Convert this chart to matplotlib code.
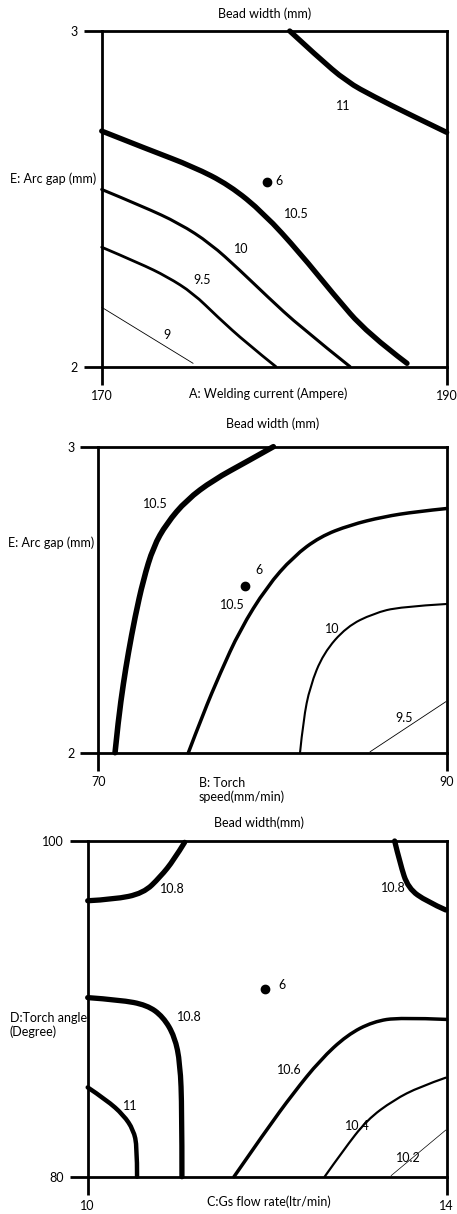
import matplotlib
matplotlib.use("Agg")
import matplotlib.pyplot as plt
from matplotlib.path import Path
from matplotlib.patches import PathPatch

plt.rcParams['font.family'] = ['Lato', 'DejaVu Sans']
W, H = 457, 1214
FS = 9

# ---- panel 1: A welding current vs E arc gap ----
p1_x11 = [180.9, 182.5, 184.2, 185.8, 187.9, 190.0]
p1_y11 = [3.0, 2.924, 2.849, 2.804, 2.75, 2.698]
p1_x105 = [170.0, 172.8, 175.3, 177.4, 179.4, 181.5, 183.4, 185.4, 187.7]
p1_y105 = [2.702, 2.645, 2.596, 2.541, 2.457, 2.338, 2.218, 2.099, 2.01]
p1_x10 = [170.0, 172.4, 174.5, 176.3, 178.0, 179.6, 181.5, 184.4]
p1_y10 = [2.528, 2.477, 2.427, 2.367, 2.288, 2.209, 2.119, 2.0]
p1_x95 = [170.0, 172.2, 173.8, 175.3, 176.7, 178.4, 180.1]
p1_y95 = [2.356, 2.308, 2.268, 2.219, 2.149, 2.07, 2.0]
p1_x9 = [170.0, 175.3]
p1_y9 = [2.177, 2.01]
p1_labels = ["11", "10.5", "10", "9.5", "9"]
p1_lab_x = [184.0, 181.3, 178.1, 175.8, 173.8]
p1_lab_y = [2.777, 2.454, 2.35, 2.258, 2.094]
p1_center = (179.6, 2.551)
p1_six = (180.3, 2.553)

# ---- panel 2: B torch speed vs E arc gap ----
p2_xa = [70.96, 71.15, 71.44, 71.72, 72.11, 72.58, 73.16, 73.92, 75.07, 76.6, 78.52, 80.05]
p2_ya = [2.0, 2.107, 2.227, 2.325, 2.444, 2.564, 2.673, 2.749, 2.826, 2.891, 2.951, 3.0]
p2_xb = [75.17, 76.03, 76.99, 78.13, 79.67, 81.2, 82.73, 84.45, 86.36, 88.28, 90.0]
p2_yb = [2.0, 2.129, 2.259, 2.401, 2.542, 2.641, 2.706, 2.744, 2.771, 2.788, 2.798]
p2_x10 = [81.58, 81.77, 82.15, 82.92, 84.26, 85.79, 87.32, 90.0]
p2_y10 = [2.0, 2.107, 2.216, 2.325, 2.412, 2.455, 2.477, 2.486]
p2_x95 = [85.6, 89.96]
p2_y95 = [2.003, 2.167]
p2_labels = ["10.5", "10.5", "10", "9.5"]
p2_lab_x = [73.29, 77.71, 83.45, 87.57]
p2_lab_y = [2.813, 2.483, 2.405, 2.115]
p2_center = (78.42, 2.546)
p2_six = (79.22, 2.597)

# ---- panel 3: C gas flow rate vs D torch angle ----
p3_xa = [10.0, 10.29, 10.62, 10.81, 10.96, 11.08]
p3_ya = [96.44, 96.52, 96.88, 97.87, 98.87, 99.92]
p3_xb = [13.42, 13.48, 13.57, 13.78, 13.99]
p3_yb = [100.0, 98.67, 97.18, 96.39, 95.89]
p3_xc = [10.0, 10.36, 10.66, 10.84, 10.97, 11.03, 11.05, 11.05]
p3_yc = [90.67, 90.53, 90.23, 89.53, 88.34, 86.75, 83.97, 80.0]
p3_x11 = [10.0, 10.21, 10.4, 10.51, 10.55, 10.55]
p3_y11 = [85.32, 84.57, 83.67, 82.78, 81.79, 80.0]
p3_x106 = [11.63, 11.99, 12.29, 12.59, 12.89, 13.18, 13.48, 14.0]
p3_y106 = [80.0, 82.78, 84.97, 86.95, 88.44, 89.24, 89.49, 89.37]
p3_x104 = [12.64, 12.85, 13.11, 13.41, 13.7, 13.99]
p3_y104 = [80.0, 81.59, 83.38, 84.57, 85.36, 85.9]
p3_x102 = [13.38, 13.99]
p3_y102 = [80.06, 82.78]
p3_labels = ["10.8", "10.8", "10.8", "11", "10.6", "10.4", "10.2"]
p3_lab_x = [10.94, 13.41, 11.13, 10.47, 12.25, 13.01, 13.57]
p3_lab_y = [97.12, 97.22, 89.49, 84.21, 86.36, 83.02, 81.13]
p3_center = (11.97, 91.18)
p3_six = (12.16, 91.42)

fig = plt.figure(figsize=(W / 100, H / 100), dpi=100)


def make_ax(l, t, r, b):
    ax = fig.add_axes([l / W, 1 - b / H, (r - l) / W, (b - t) / H])
    for s in ax.spines.values():
        s.set_linewidth(2.0)
    ax.tick_params(direction='out', length=13, width=2.0, pad=4, labelsize=FS)
    return ax


def ftext(x, y, s, **kw):
    fig.text(x / W, 1 - y / H, s, fontsize=FS, **kw)


def smooth_path(xs, ys):
    # quadratic bezier: read points are control points, curve runs through midpoints
    pts = list(zip(xs, ys))
    if len(pts) < 3:
        return Path(pts)
    verts = [pts[0]]
    codes = [Path.MOVETO]
    for i in range(1, len(pts) - 1):
        if i < len(pts) - 2:
            end = ((pts[i][0] + pts[i + 1][0]) / 2, (pts[i][1] + pts[i + 1][1]) / 2)
        else:
            end = pts[i + 1]
        verts += [pts[i], end]
        codes += [Path.CURVE3, Path.CURVE3]
    return Path(verts, codes)


def draw_panel(ax, curves, widths, labs, lx, ly, center, six):
    for (xs, ys), lw in zip(curves, widths):
        ax.add_patch(PathPatch(smooth_path(xs, ys), fill=False, edgecolor='black',
                               lw=lw, capstyle='round', clip_on=False))
    for s, x, y in zip(labs, lx, ly):
        ax.text(x, y, s, fontsize=FS, ha='center', va='center')
    ax.plot(*center, 'o', color='black', ms=6)
    ax.text(six[0], six[1], "6", fontsize=FS, ha='center', va='center')


# panel 1
ax1 = make_ax(101.7, 31, 446.7, 366.7)
ax1.set_xlim(170, 190)
ax1.set_ylim(2, 3)
ax1.set_xticks([170, 190])
ax1.set_yticks([2, 3])
draw_panel(ax1, [(p1_x11, p1_y11), (p1_x105, p1_y105), (p1_x10, p1_y10),
                 (p1_x95, p1_y95), (p1_x9, p1_y9)],
           [3.8, 3.8, 2.2, 2.0, 0.6], p1_labels, p1_lab_x, p1_lab_y, p1_center, p1_six)
ftext(265, 14, "Bead width (mm)", ha='center', va='center')
ftext(96, 179, "E: Arc gap (mm)", ha='right', va='center')
ftext(268, 394, "A: Welding current (Ampere)", ha='center', va='center')

# panel 2
ax2 = make_ax(98.3, 446.7, 446.7, 752.7)
ax2.set_xlim(70, 90)
ax2.set_ylim(2, 3)
ax2.set_xticks([70, 90])
ax2.set_yticks([2, 3])
draw_panel(ax2, [(p2_xa, p2_ya), (p2_xb, p2_yb), (p2_x10, p2_y10), (p2_x95, p2_y95)],
           [4.0, 2.5, 1.5, 0.6], p2_labels, p2_lab_x, p2_lab_y, p2_center, p2_six)
ftext(273, 424, "Bead width (mm)", ha='center', va='center')
ftext(94, 543, "E: Arc gap (mm)", ha='right', va='center')
ftext(199, 790, "B: Torch\nspeed(mm/min)", ha='left', va='center', linespacing=1.2)

# panel 3
ax3 = make_ax(87.7, 841, 446.7, 1176.7)
ax3.set_xlim(10, 14)
ax3.set_ylim(80, 100)
ax3.set_xticks([10, 14])
ax3.set_yticks([80, 100])
draw_panel(ax3, [(p3_xa, p3_ya), (p3_xb, p3_yb), (p3_xc, p3_yc), (p3_x11, p3_y11),
                 (p3_x106, p3_y106), (p3_x104, p3_y104), (p3_x102, p3_y102)],
           [3.8, 3.8, 3.8, 3.2, 2.5, 1.6, 0.5], p3_labels, p3_lab_x, p3_lab_y,
           p3_center, p3_six)
ftext(259, 823, "Bead width(mm)", ha='center', va='center')
ftext(10, 1025, "D:Torch angle\n(Degree)", ha='left', va='center', linespacing=1.2)
ftext(269, 1202, "C:Gs flow rate(ltr/min)", ha='center', va='center')

fig.savefig("out.png", dpi=100)
